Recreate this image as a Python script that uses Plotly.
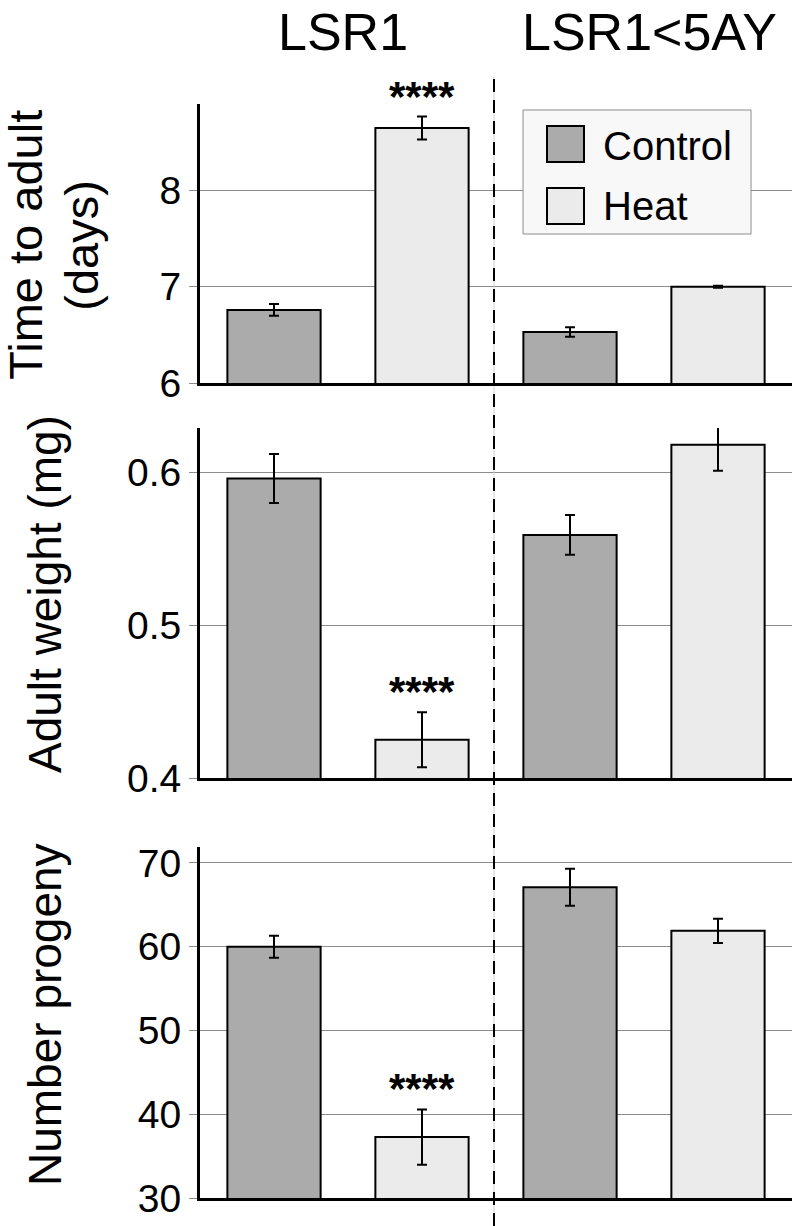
import plotly.graph_objects as go

# ---------------- data ----------------
groups = ["LSR1", "LSR1<5AY"]
group_labels = ["LSR1", "LSR1&lt;5AY"]
conditions = ["Control", "Heat"]

time_control = [6.76, 6.53]
time_control_err = [0.06, 0.05]
time_heat = [8.65, 7.00]
time_heat_err = [0.12, 0.01]

weight_control = [0.596, 0.559]
weight_control_err = [0.016, 0.013]
weight_heat = [0.425, 0.618]
weight_heat_err = [0.018, 0.017]

progeny_control = [60.0, 67.1]
progeny_control_err = [1.3, 2.2]
progeny_heat = [37.3, 61.9]
progeny_heat_err = [3.3, 1.45]

heat_significance = ["****", ""]

panel_titles = ["Time to adult", "Adult weight (mg)", "Number progeny"]
panel_ranges = [[6, 8.9], [0.4, 0.629], [30, 71.9]]
panel_ticks = [[6, 7, 8], [0.4, 0.5, 0.6], [30, 40, 50, 60, 70]]
panel_ticktext = [["6", "7", "8"], ["0.4", "0.5", "0.6"], ["30", "40", "50", "60", "70"]]

# ---------------- style ----------------
W, H = 792, 1226
FONT = "Liberation Sans, Arial, Helvetica, sans-serif"
C_CONTROL = "#ababab"
C_HEAT = "#ebebeb"
GRID = "#8c8c8c"


def px(x):
    return x / W


def py(y):
    return 1 - y / H


panels = [
    (time_control, time_control_err, time_heat, time_heat_err),
    (weight_control, weight_control_err, weight_heat, weight_heat_err),
    (progeny_control, progeny_control_err, progeny_heat, progeny_heat_err),
]
# pixel extents (top, bottom) of each panel
panel_px = [(104, 383), (428, 778), (847, 1198.3)]

fig = go.Figure()
layout = dict(
    width=W, height=H,
    margin=dict(l=0, r=0, t=0, b=0, pad=0, autoexpand=False),
    paper_bgcolor="white", plot_bgcolor="white",
    showlegend=False,
    barmode="group", bargap=0.0, bargroupgap=0.37,
    font=dict(family=FONT, color="black"),
)

annotations = []
shapes = []

for i, (cv, ce, hv, he) in enumerate(panels):
    n = "" if i == 0 else str(i + 1)
    xa, ya = "x" + n, "y" + n
    fig.add_trace(go.Bar(
        x=groups, y=cv, name="Control", xaxis=xa, yaxis=ya,
        marker=dict(color=C_CONTROL, line=dict(color="black", width=2)),
        error_y=dict(type="data", array=ce, color="black", thickness=2, width=5),
        cliponaxis=False,
    ))
    fig.add_trace(go.Bar(
        x=groups, y=hv, name="Heat", xaxis=xa, yaxis=ya,
        marker=dict(color=C_HEAT, line=dict(color="black", width=2)),
        error_y=dict(type="data", array=he, color="black", thickness=2, width=5),
        cliponaxis=False,
    ))
    top, bot = panel_px[i]
    layout["xaxis" + n] = dict(
        domain=[px(200), 1.0], anchor=ya, type="category",
        range=[-0.5, 1.5], showticklabels=False, ticks="",
        showline=True, linecolor="black", linewidth=3,
        showgrid=False, zeroline=False, fixedrange=True, automargin=False,
    )
    layout["yaxis" + n] = dict(
        domain=[py(bot), py(top)], anchor=xa,
        range=panel_ranges[i], tickvals=panel_ticks[i], ticktext=panel_ticktext[i],
        ticks="outside", ticklen=8, tickcolor=GRID, tickwidth=1,
        tickfont=dict(size=39, family=FONT, color="black"),
        showline=True, linecolor="black", linewidth=3,
        showgrid=True, gridcolor=GRID, gridwidth=1,
        zeroline=False, fixedrange=True, automargin=False,
    )
    # significance stars above the heat bar (heat bar sits right of group centre)
    for g, s, v, e in zip(groups, heat_significance, hv, he):
        if s:
            annotations.append(dict(
                x=g, y=v + e, xref=xa, yref=ya, text="<b>" + s + "</b>", showarrow=False,
                xanchor="center", yanchor="bottom", xshift=74, yshift=-5,
                font=dict(size=42, family=FONT, color="black"),
            ))

# y-axis titles
annotations.append(dict(x=px(25.7), y=py(245), xref="paper", yref="paper",
                        text=panel_titles[0], textangle=-90, showarrow=False,
                        xanchor="center", yanchor="middle",
                        font=dict(size=47, family=FONT, color="black")))
annotations.append(dict(x=px(81.7), y=py(245), xref="paper", yref="paper",
                        text="(days)", textangle=-90, showarrow=False,
                        xanchor="center", yanchor="middle",
                        font=dict(size=47, family=FONT, color="black")))
annotations.append(dict(x=px(45), y=py(594), xref="paper", yref="paper",
                        text=panel_titles[1], textangle=-90, showarrow=False,
                        xanchor="center", yanchor="middle",
                        font=dict(size=46, family=FONT, color="black")))
annotations.append(dict(x=px(45), y=py(1015), xref="paper", yref="paper",
                        text=panel_titles[2], textangle=-90, showarrow=False,
                        xanchor="center", yanchor="middle",
                        font=dict(size=46, family=FONT, color="black")))

# column titles
for xc, lab in zip([343, 649], group_labels):
    annotations.append(dict(x=px(xc), y=py(32.5), xref="paper", yref="paper",
                            text=lab, showarrow=False,
                            xanchor="center", yanchor="middle",
                            font=dict(size=52, family=FONT, color="black")))

# dashed separator line between strains
shapes.append(dict(type="line", xref="paper", yref="paper",
                   x0=px(494), x1=px(494), y0=0, y1=py(77),
                   line=dict(color="#d0d0d0", width=1), layer="above"))
shapes.append(dict(type="line", xref="paper", yref="paper",
                   x0=px(494), x1=px(494), y0=0, y1=py(77),
                   line=dict(color="black", width=2, dash="13px,8px"), layer="above"))

# legend box
shapes.append(dict(type="rect", xref="paper", yref="paper",
                   x0=px(523), x1=px(751), y0=py(234), y1=py(110),
                   fillcolor="#f8f8f8", line=dict(color="#8c8c8c", width=1), layer="above"))
for (yt, yb), col, lab, yc in [((126, 162), C_CONTROL, conditions[0], 146),
                               ((188, 224), C_HEAT, conditions[1], 206)]:
    shapes.append(dict(type="rect", xref="paper", yref="paper",
                       x0=px(547), x1=px(584), y0=py(yb), y1=py(yt),
                       fillcolor=col, line=dict(color="black", width=2), layer="above"))
    annotations.append(dict(x=px(601), y=py(yc), xref="paper", yref="paper",
                            text=lab, showarrow=False,
                            xanchor="left", yanchor="middle",
                            font=dict(size=40, family=FONT, color="black")))

layout["annotations"] = annotations
layout["shapes"] = shapes
fig.update_layout(**layout)

fig.write_html(
    "out.html",
    config={"displayModeBar": False, "staticPlot": True},
    post_script="document.body.style.margin='0';document.body.style.padding='0';"
                "document.body.style.overflow='hidden';",
)
